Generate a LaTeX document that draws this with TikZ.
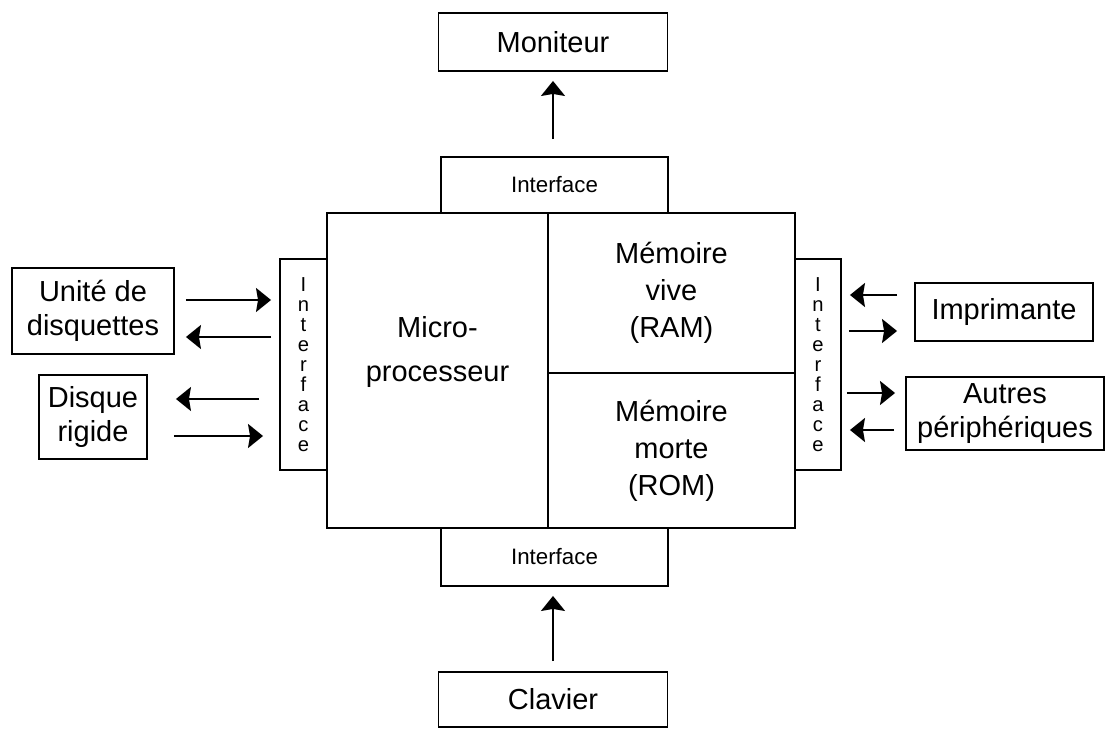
\documentclass[tikz,border=0pt]{standalone}
\usepackage{fontspec}
\setmainfont{Liberation Sans}
\usetikzlibrary{arrows.meta, positioning}

\begin{document}
\begin{tikzpicture}[x=0.02cm, y=-0.02cm, line width=1.1pt,
      >={Stealth[length=0.3cm, width=0.48cm, inset=0.04cm]},
      block/.style={rectangle, draw, align=center, inner sep=0pt, font=\fontsize{16.5}{19}\selectfont},
      cell/.style={rectangle, draw, align=center, inner sep=0pt, font=\fontsize{16.5}{21}\selectfont},
      iface/.style={rectangle, draw, inner sep=0pt, font=\fontsize{12.7}{14}\selectfont},
      vface/.style={rectangle, draw, align=center, inner sep=0pt, font=\fontsize{11.5}{11.4}\selectfont}]

      \useasboundingbox (0,0) rectangle (1106,729);

      % Central unit
      \node[cell, minimum width=4.42cm, minimum height=6.3cm,
        label={[align=center, yshift=0.37cm, font=\fontsize{16.5}{25.6}\selectfont]center:{Micro-\\processeur}}] (cpu) at (437.5,370.5) {};
      \node[cell, minimum width=4.94cm, minimum height=3.2cm] (ram) at (671.5,293) {Mémoire\\vive\\(RAM)};
      \node[cell, minimum width=4.94cm, minimum height=3.1cm] (rom) at (671.5,450.5) {Mémoire\\morte\\(ROM)};

      % Interfaces
      \node[iface, minimum width=4.54cm, minimum height=1.12cm] (ifTop) at (554.5,185) {Interface};
      \node[iface, minimum width=4.54cm, minimum height=1.16cm] (ifBot) at (554.5,557) {Interface};
      \node[vface, minimum width=0.94cm, minimum height=4.22cm] (ifLeft) at (303.5,364.5) {I\\n\\t\\e\\r\\f\\a\\c\\e};
      \node[vface, minimum width=0.92cm, minimum height=4.22cm] (ifRight) at (818,364.5) {I\\n\\t\\e\\r\\f\\a\\c\\e};

      % Peripherals
      \node[block, minimum width=4.58cm, minimum height=1.16cm] (mon) at (553,42) {Moniteur};
      \node[block, minimum width=4.58cm, minimum height=1.1cm] (clav) at (553,699.5) {Clavier};
      \node[block, minimum width=3.24cm, minimum height=1.72cm] (floppy) at (93,311) {Unité de\\disquettes};
      \node[block, minimum width=2.16cm, minimum height=1.68cm] (disk) at (93,417) {Disque\\rigide};
      \node[block, minimum width=3.56cm, minimum height=1.16cm] (printer) at (1004,312) {Imprimante};
      \node[block, minimum width=3.96cm, minimum height=1.46cm] (other) at (1005,413.5) {Autres\\périphériques};

      % Arrows up
      \draw[->, shorten <=0.34cm, shorten >=0.18cm] (mon.south |- ifTop.north) -- (mon.south);
      \draw[->, shorten <=0.2cm, shorten >=0.18cm] (clav.north) -- (clav.north |- ifBot.south);

      % Arrows left and right
      \foreach \y/\from/\to/\sa/\sb in {300/floppy.east/ifLeft.west/0.22cm/0.16cm,
                                        337/ifLeft.west/floppy.east/0.16cm/0.22cm,
                                        399/ifLeft.west/disk.east/0.4cm/0.56cm,
                                        436/disk.east/ifLeft.west/0.52cm/0.32cm,
                                        295/printer.west/ifRight.east/0.34cm/0.16cm,
                                        331/ifRight.east/printer.west/0.14cm/0.34cm,
                                        393/ifRight.east/other.west/0.1cm/0.2cm,
                                        430/other.west/ifRight.east/0.22cm/0.16cm}
        \draw[->, shorten <=\sa, shorten >=\sb] (\from |- 0,\y) -- (\to |- 0,\y);
    \end{tikzpicture}
\end{document}
